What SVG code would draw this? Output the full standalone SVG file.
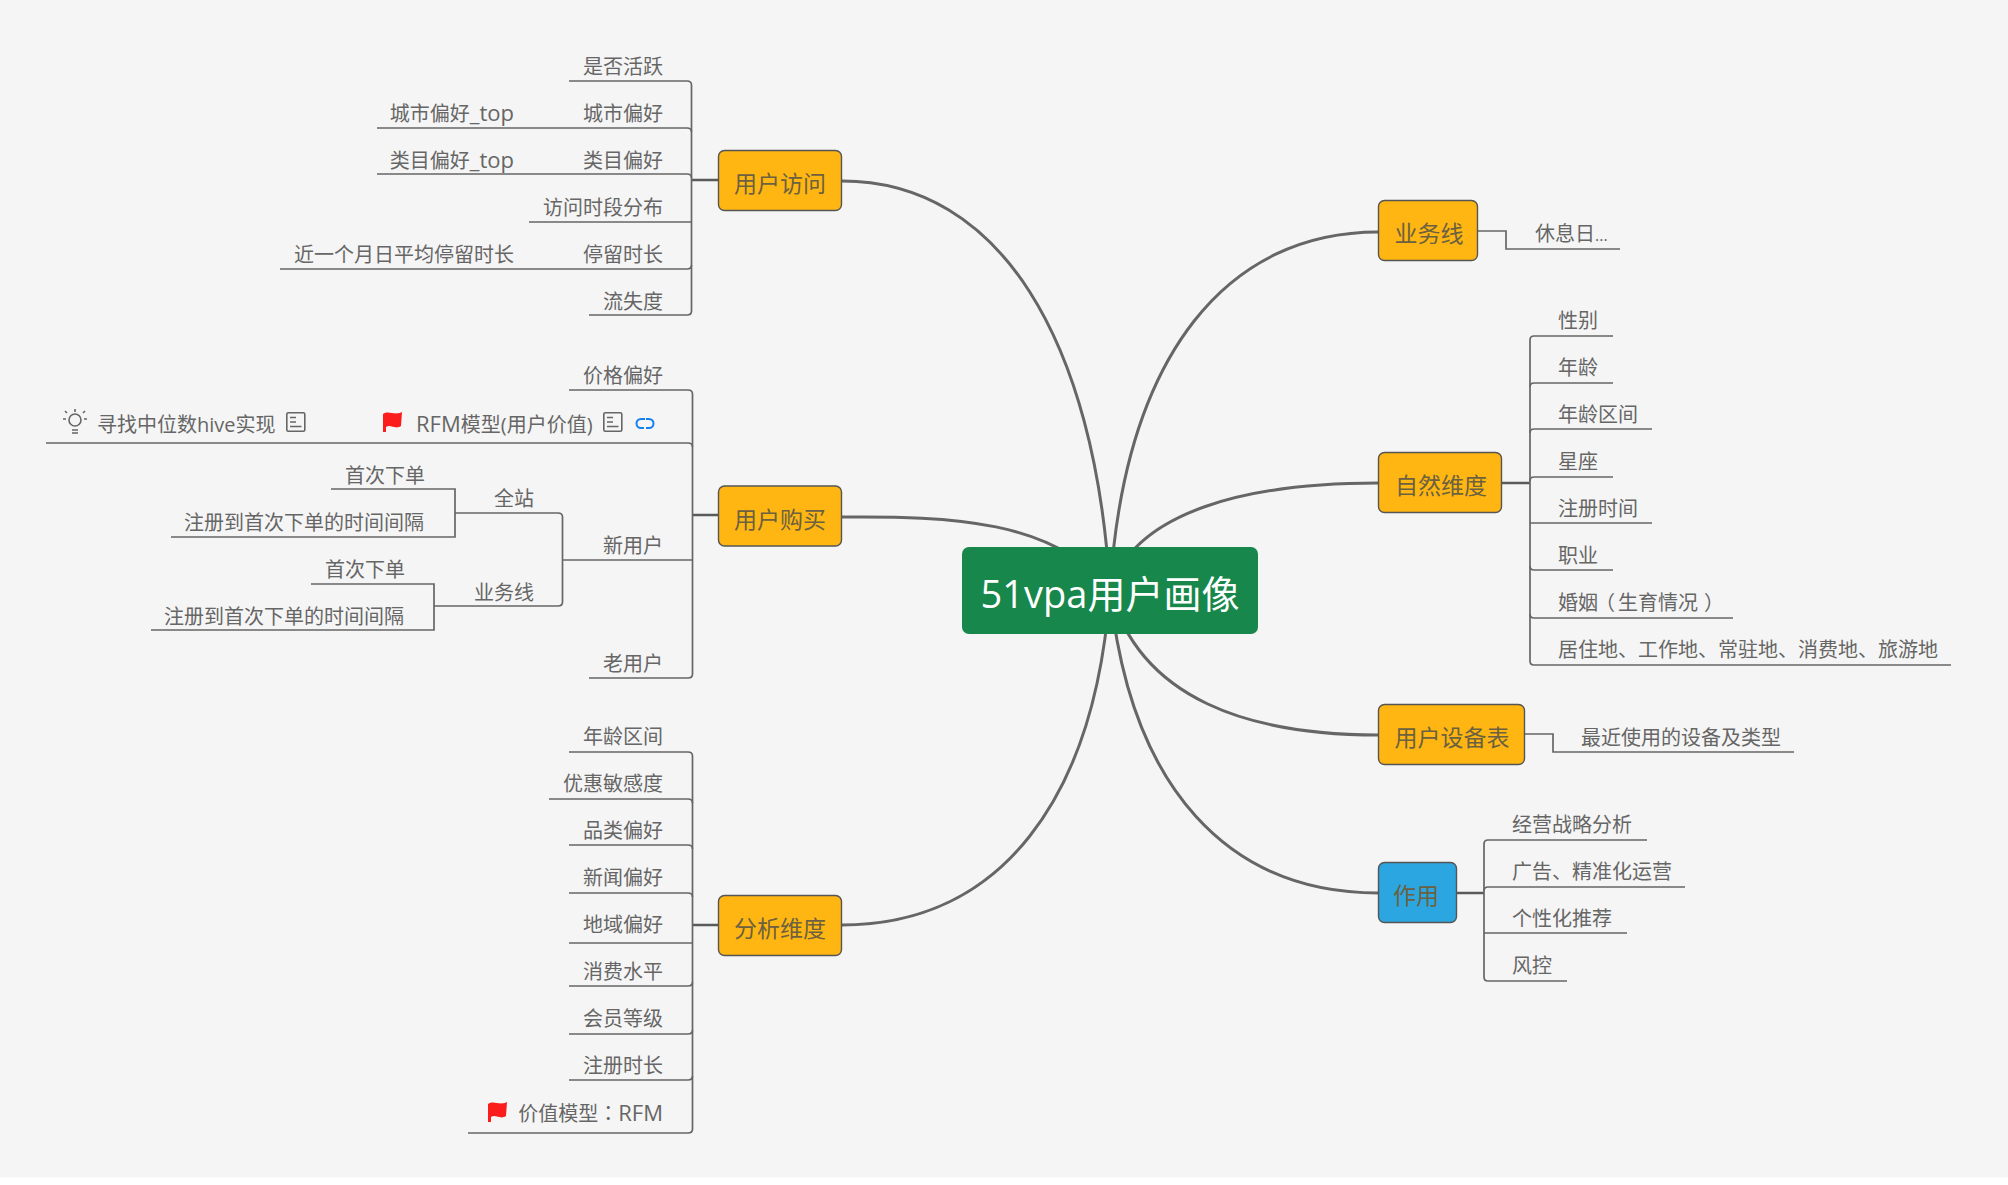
<svg xmlns="http://www.w3.org/2000/svg" width="2008" height="1185" viewBox="0 0 2008 1185">
<style>
text{font-family:"Open Sans","Noto Sans CJK SC",sans-serif;font-size:20px;fill:#666}
.e{text-anchor:end}
.t{font-size:23px;text-anchor:middle;fill:#6b6140}
.a{font-size:22px}
.l{fill:none;stroke:#666;stroke-width:1.7}
.s{fill:none;stroke:#5a5a5a;stroke-width:2.4}
.c{fill:none;stroke:#666;stroke-width:3}
.n{fill:#ffb612;stroke:#555;stroke-width:1.4}
</style>
<defs>
<path id="flag" d="M0 2C6-2 11 4 19 0L18 14C12 18 8 12 3 15L3 20L0 20Z" fill="#fb1c1c"/>
<g id="doc" fill="none" stroke="#666" stroke-width="1.6"><rect x="0.8" y="0.8" width="18" height="18.5" rx="1.5"/><path d="M4 5.500H10M4 10H10M4 14.500H15.500"/></g>
</defs>
<rect width="2008" height="1177.500" fill="#f5f5f5"/>
<g id="connectors">
<path class="c" d="M842 181C1000 181 1095 340 1110 590"/>
<path class="c" d="M842 517C950 516 1055 520 1110 590"/>
<path class="c" d="M842 925C1000 925 1095 800 1110 590"/>
<path class="c" d="M1378 232C1230 232 1125 350 1110 590"/>
<path class="c" d="M1378 483C1250 483 1135 510 1110 590"/>
<path class="c" d="M1378 735C1250 735 1140 700 1110 590"/>
<path class="c" d="M1378 893C1230 893 1130 790 1110 590"/>
<path class="s" d="M692 180H718M692 515H718M692 925H718"/>
<path class="l" d="M569 81H687Q691.500 81 691.500 85V311Q691.500 315 687 315H589"/>
<path class="l" d="M377 128H687Q691.500 128 691.500 132M377 174H687Q691.500 174 691.500 178M529 222H691.500M280 269H687Q691.500 269 691.500 265"/>
<path class="l" d="M569 390H688Q692.500 390 692.500 394V674Q692.500 678 688 678H589"/>
<path class="l" d="M46 443H688Q692.500 443 692.500 447M563 560H692.500"/>
<path class="l" d="M455 513H558Q562.500 513 562.500 517V602Q562.500 606 558 606H434"/>
<path class="l" d="M331 489H455V537H171M311 584H434V630H151"/>
<path class="l" d="M569 752H688Q692.500 752 692.500 756V1129Q692.500 1133 688 1133H468"/>
<path class="l" d="M549 799H688Q692.500 799 692.500 803M569 845H688Q692.500 845 692.500 849M569 893H688Q692.500 893 692.500 897M569 943H692.500M569 986H688Q692.500 986 692.500 982M569 1034H688Q692.500 1034 692.500 1030M569 1080H688Q692.500 1080 692.500 1076"/>
<path class="l" d="M1478 231H1506V249H1620"/>
<path class="s" d="M1501 483H1530M1456 893H1484"/>
<path class="l" d="M1613 336H1534Q1530 336 1530 340V661Q1530 665 1534 665H1951"/>
<path class="l" d="M1613 383H1534Q1530 383 1530 387M1652 429H1534Q1530 429 1530 433M1613 477H1534Q1530 477 1530 481M1652 523H1530M1613 570H1534Q1530 570 1530 566M1733 618H1534Q1530 618 1530 614"/>
<path class="l" d="M1524 734H1553V752H1794"/>
<path class="l" d="M1647 840H1488Q1484 840 1484 844V977Q1484 981 1488 981H1567"/>
<path class="l" d="M1685 887H1488Q1484 887 1484 891M1627 933H1484"/>
</g>
<g id="root"><rect x="962" y="547" width="296" height="87" rx="7" fill="#17874b"/><text x="1110" y="608" text-anchor="middle" style="font-size:38px;fill:#fff">51vpa用户画像</text></g>
<g id="n-visit"><rect class="n" x="718.500" y="150.500" width="123" height="60" rx="6"/><text class="t" x="780" y="192">用户访问</text></g>
<g id="n-buy"><rect class="n" x="718.500" y="486" width="123" height="60" rx="6"/><text class="t" x="780" y="528">用户购买</text></g>
<g id="n-dim"><rect class="n" x="718.500" y="895.500" width="123" height="60" rx="6"/><text class="t" x="780" y="937">分析维度</text></g>
<g id="n-line"><rect class="n" x="1378.500" y="200.500" width="99" height="60" rx="6"/><text class="t" x="1429" y="242">业务线</text></g>
<g id="n-nat"><rect class="n" x="1378.500" y="452.500" width="123" height="60" rx="6"/><text class="t" x="1441" y="494">自然维度</text></g>
<g id="n-dev"><rect class="n" x="1378.500" y="704.500" width="146" height="60" rx="6"/><text class="t" x="1452" y="746">用户设备表</text></g>
<g id="n-use"><rect class="n" x="1378.500" y="862.500" width="78" height="60" rx="6" style="fill:#2ca6e0"/><text class="t" x="1416" y="904">作用</text></g>
<g id="visit-items">
<text class="e" x="663" y="74">是否活跃</text>
<text class="e" x="663" y="121">城市偏好</text>
<text class="e" x="514" y="121">城市偏好<tspan class="a">_top</tspan></text>
<text class="e" x="663" y="168">类目偏好</text>
<text class="e" x="514" y="168">类目偏好<tspan class="a">_top</tspan></text>
<text class="e" x="663" y="215">访问时段分布</text>
<text class="e" x="663" y="262">停留时长</text>
<text class="e" x="514" y="262">近一个月日平均停留时长</text>
<text class="e" x="663" y="309">流失度</text>
</g>
<g id="buy-items">
<text class="e" x="663" y="383">价格偏好</text>
<text x="416" y="432"><tspan class="a">RFM</tspan>模型(用户价值)</text>
<text x="97" y="432">寻找中位数hive实现</text>
<text class="e" x="663" y="553">新用户</text>
<text class="e" x="663" y="671">老用户</text>
<text x="494" y="506">全站</text>
<text x="474" y="600">业务线</text>
<text x="345" y="483">首次下单</text>
<text x="184" y="530">注册到首次下单的时间间隔</text>
<text x="325" y="577">首次下单</text>
<text x="164" y="624">注册到首次下单的时间间隔</text>
</g>
<g id="icons">
<g fill="none" stroke="#666" stroke-width="1.600"><circle cx="75" cy="420" r="6"/><path d="M75 409V412M65 411L67 413M85 411L83 413M63 419H66M84 419H87M72 430H78M72 433H78"/></g>
<use href="#doc" x="286" y="412"/>
<use href="#flag" x="383" y="412"/>
<use href="#doc" x="603" y="412"/>
<path d="M645 419H641A4.500 4.500 0 0 0 641 428H644M646 428H649A4.500 4.500 0 0 0 649 419H646" fill="none" stroke="#1480f0" stroke-width="2"/>
<use href="#flag" x="488" y="1102"/>
</g>
<g id="dim-items">
<text class="e" x="663" y="744">年龄区间</text>
<text class="e" x="663" y="791">优惠敏感度</text>
<text class="e" x="663" y="838">品类偏好</text>
<text class="e" x="663" y="885">新闻偏好</text>
<text class="e" x="663" y="932">地域偏好</text>
<text class="e" x="663" y="979">消费水平</text>
<text class="e" x="663" y="1026">会员等级</text>
<text class="e" x="663" y="1073">注册时长</text>
<text class="e" x="663" y="1121">价值模型<tspan style="font-family:'Noto Sans CJK TC',sans-serif">：</tspan><tspan class="a">RFM</tspan></text>
</g>
<g id="right-items">
<text x="1535" y="241">休息日<tspan style="font-size:16px">...</tspan></text>
<text x="1558" y="328">性别</text>
<text x="1558" y="375">年龄</text>
<text x="1558" y="422">年龄区间</text>
<text x="1558" y="469">星座</text>
<text x="1558" y="516">注册时间</text>
<text x="1558" y="563">职业</text>
<text x="1558" y="610">婚姻<tspan dx="-3">（</tspan><tspan dx="3">生育情况</tspan><tspan dx="6">）</tspan></text>
<text x="1558" y="657">居住地、工作地、常驻地、消费地、旅游地</text>
<text x="1581" y="745">最近使用的设备及类型</text>
<text x="1512" y="832">经营战略分析</text>
<text x="1512" y="879">广告、精准化运营</text>
<text x="1512" y="926">个性化推荐</text>
<text x="1512" y="973">风控</text>
</g>
</svg>
